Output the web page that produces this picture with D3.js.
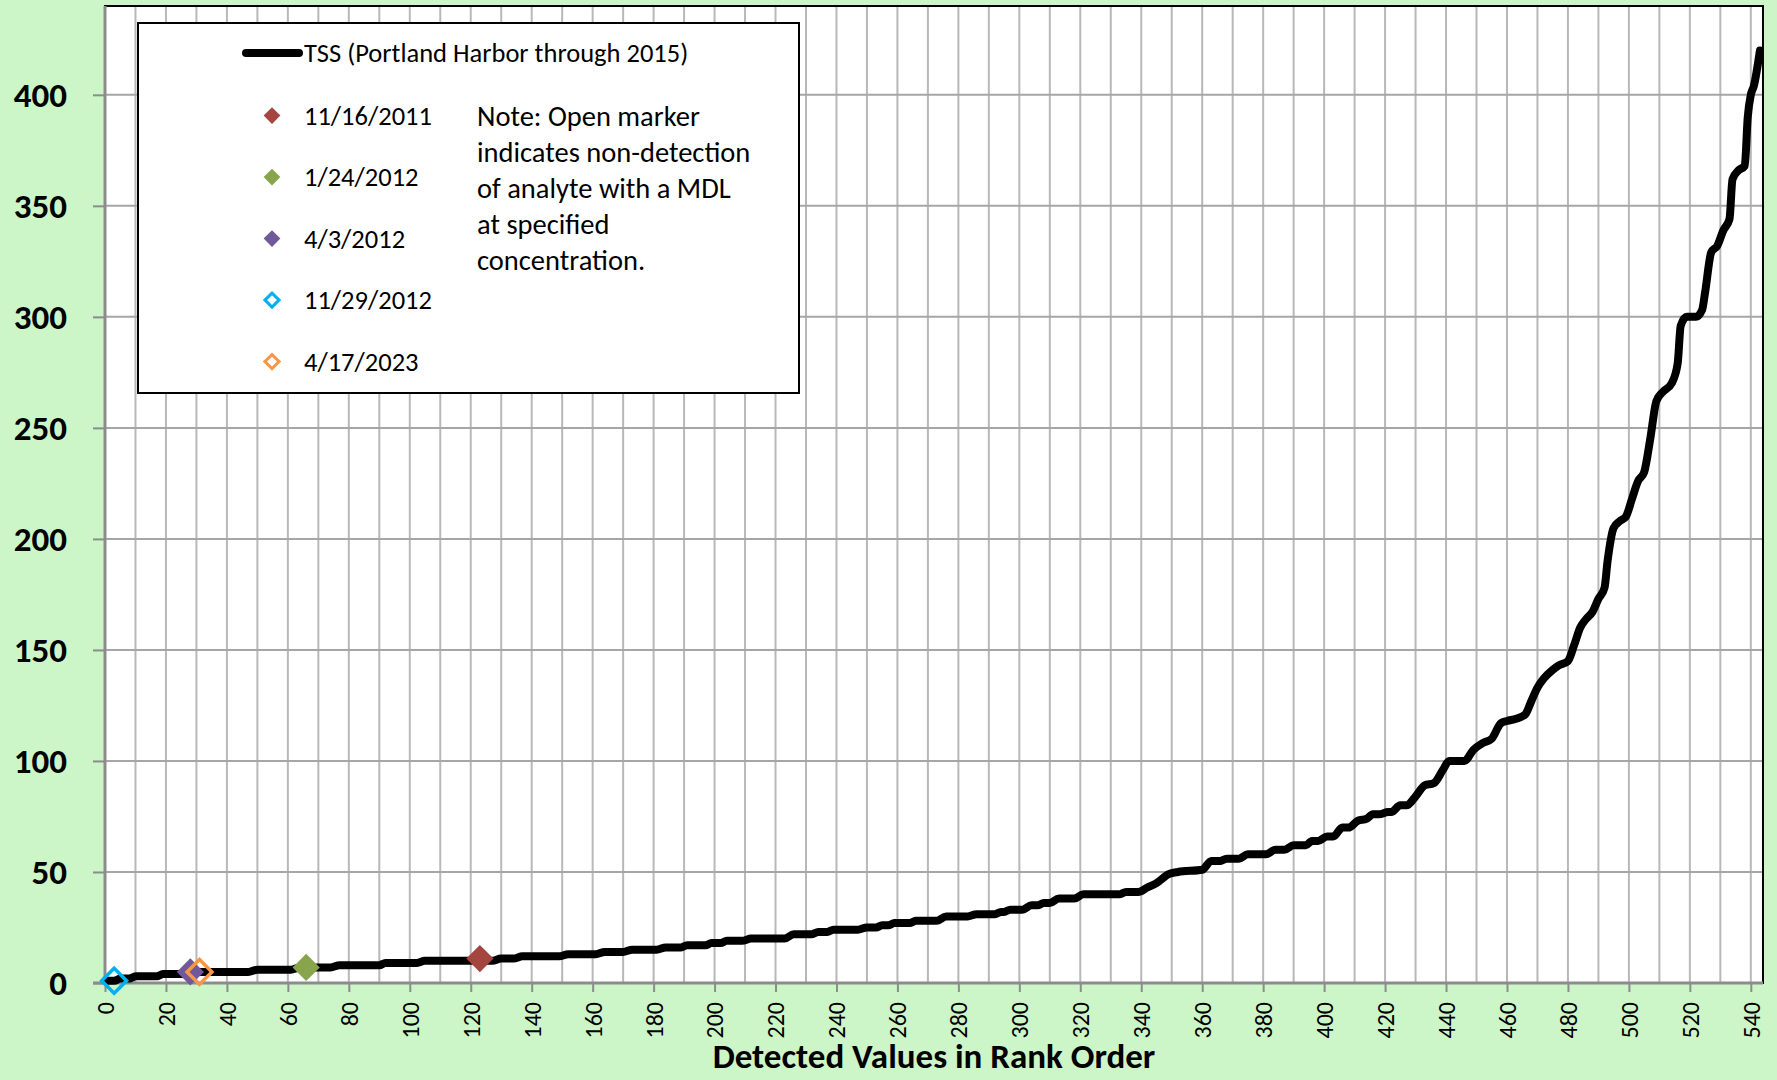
<!DOCTYPE HTML>
<html>

<head>
  <meta charset="utf-8">
  <title>TSS rank order</title>
  <script src="https://d3js.org/d3.v7.min.js"></script>
  <style>
    body { margin: 0; background: #ccf5c8; }
    text { font-family: Carlito, Calibri, Lato, sans-serif; }
  </style>
</head>

<body>
  <script>
    // ranked TSS values (rank, mg/L)
    const tssRank = [1, 3, 5, 8, 10, 17, 19, 27, 30, 47, 50, 61, 64, 74, 77, 90, 92, 102, 105, 127,
      130, 134, 137, 149, 152, 161, 164, 170, 173, 181, 184, 189, 191, 197, 199, 202, 204, 209, 212, 223,
      226, 232, 234, 237, 239, 247, 250, 253, 255, 257, 259, 264, 266, 273, 276, 283, 286, 292, 294, 295,
      297, 301, 304, 306, 308, 310, 313, 318, 321, 333, 335, 339, 342, 345, 349, 352, 360, 363, 366, 368,
      372, 375, 381, 384, 387, 390, 394, 396, 398, 401, 403, 406, 408, 411, 414, 416, 418, 421, 422, 425,
      427, 430, 433, 436, 439, 441, 446, 449, 452, 455, 458, 460, 463, 466, 468, 470, 472, 475, 477, 480,
      482, 484, 486, 488, 490, 492, 493, 495, 497, 499, 501, 503, 505, 507, 509, 511, 514, 516, 517, 519,
      522, 524, 525, 527, 529, 531, 533, 534, 536, 538, 539, 540, 541, 543];
    const tssValue = [1, 1, 2, 2, 3, 3, 4, 4, 5, 5, 6, 6, 7, 7, 8, 8, 9, 9, 10, 10,
      11, 11, 12, 12, 13, 13, 14, 14, 15, 15, 16, 16, 17, 17, 18, 18, 19, 19, 20, 20,
      22, 22, 23, 23, 24, 24, 25, 25, 26, 26, 27, 27, 28, 28, 30, 30, 31, 31, 32, 32,
      33, 33, 35, 35, 36, 36, 38, 38, 40, 40, 41, 41, 43, 45, 49, 50, 51, 55, 55, 56,
      56, 58, 58, 60, 60, 62, 62, 64, 64, 66, 66, 70, 70, 73, 74, 76, 76, 77, 77, 80,
      80, 84, 89, 90, 96, 100, 100, 105, 108, 110, 117, 118, 119, 121, 127, 133, 137, 141, 143, 145,
      152, 160, 164, 167, 173, 178, 190, 205, 208, 210, 218, 226, 230, 245, 262, 266, 270, 279, 296, 300,
      300, 303, 311, 329, 332, 339, 344, 362, 366, 368, 390, 400, 404, 420];

    // individual samples
    const sampleDates = ['11/16/2011', '1/24/2012', '4/3/2012', '11/29/2012', '4/17/2023'];
    const sampleRank = [123, 66, 28, 3, 31];
    const sampleValue = [11, 7, 5, 1, 5];
    const sampleNonDetect = [false, false, false, true, true];
    const sampleColors = ['#a5453f', '#88a44d', '#70589a', '#00b0f0', '#f79646'];

    const xTicks = d3.range(0, 541, 20);
    const yTicks = [0, 50, 100, 150, 200, 250, 300, 350, 400];
    const noteLines = ['Note: Open marker', 'indicates non-detection', 'of analyte with a MDL',
      'at specified', 'concentration.'];

    const svg = d3.select('body').append('svg')
      .attr('width', 1777)
      .attr('height', 1080);

    svg.append('rect')
      .attr('width', 1777)
      .attr('height', 1080)
      .attr('fill', '#ccf5c8');

    const x = d3.scaleLinear().domain([0, 544]).range([105, 1763]);
    const y = d3.scaleLinear().domain([0, 440]).range([983, 6]);

    // plot area
    svg.append('rect')
      .attr('x', x(0))
      .attr('y', y(440))
      .attr('width', x(544) - x(0))
      .attr('height', y(0) - y(440))
      .attr('fill', '#fff')
      .attr('stroke', '#000')
      .attr('stroke-width', 2);

    svg.append('g')
      .selectAll('line')
      .data(d3.range(10, 544, 10))
      .join('line')
      .attr('x1', d => x(d))
      .attr('x2', d => x(d))
      .attr('y1', y(440) + 1)
      .attr('y2', y(0))
      .attr('stroke', '#b8b8b8')
      .attr('stroke-width', 2);

    svg.append('g')
      .selectAll('line')
      .data(yTicks.slice(1))
      .join('line')
      .attr('x1', x(0))
      .attr('x2', x(544) - 1)
      .attr('y1', d => y(d))
      .attr('y2', d => y(d))
      .attr('stroke', '#a6a6a6')
      .attr('stroke-width', 2);

    // axes
    const yAxis = svg.append('g')
      .attr('transform', `translate(${x(0)},0)`)
      .call(d3.axisLeft(y).tickValues(yTicks).tickSize(12).tickPadding(26));
    yAxis.select('.domain')
      .attr('d', `M0,${y(440)}V${y(0)}`)
      .attr('stroke', '#8c8c8c')
      .attr('stroke-width', 3);
    yAxis.selectAll('.tick line')
      .attr('stroke', '#8c8c8c')
      .attr('stroke-width', 2);
    yAxis.selectAll('.tick text')
      .attr('font-size', 35)
      .attr('font-weight', 'bold')
      .attr('fill', '#000');

    const xAxis = svg.append('g')
      .attr('transform', `translate(0,${y(0)})`)
      .call(d3.axisBottom(x).tickValues(xTicks).tickSize(9));
    xAxis.select('.domain')
      .attr('d', `M${x(0) - 12},0H${x(544)}`)
      .attr('stroke', '#8c8c8c')
      .attr('stroke-width', 3);
    xAxis.selectAll('.tick line')
      .attr('stroke', '#8c8c8c')
      .attr('stroke-width', 2);
    xAxis.selectAll('.tick text')
      .attr('font-size', 24)
      .attr('fill', '#000')
      .attr('text-anchor', 'end')
      .attr('transform', 'rotate(-90)')
      .attr('x', -19)
      .attr('y', 0)
      .attr('dy', '0.35em');

    svg.append('text')
      .attr('x', (x(0) + x(544)) / 2)
      .attr('y', 1068)
      .attr('text-anchor', 'middle')
      .attr('font-size', 35)
      .attr('font-weight', 'bold')
      .text('Detected Values in Rank Order');

    // TSS curve
    const tss = tssRank.map((r, i) => ({ r: r, v: tssValue[i] }));
    const line = d3.line()
      .x(d => x(d.r))
      .y(d => y(d.v))
      .curve(d3.curveMonotoneX);

    svg.append('path')
      .datum(tss)
      .attr('d', line)
      .attr('fill', 'none')
      .attr('stroke', '#000')
      .attr('stroke-width', 8)
      .attr('stroke-linejoin', 'round')
      .attr('stroke-linecap', 'round');

    // sample markers
    const samples = sampleDates.map((d, i) => ({
      date: d,
      r: sampleRank[i],
      v: sampleValue[i],
      open: sampleNonDetect[i],
      color: sampleColors[i],
    }));

    const diamond = (size) => d3.symbol(d3.symbolSquare, size)();

    svg.append('g')
      .selectAll('path')
      .data(samples)
      .join('path')
      .attr('d', d => diamond(d.open ? 310 : 370))
      .attr('transform', d => `translate(${x(d.r)},${y(d.v)}) rotate(45)`)
      .attr('fill', d => d.open ? 'none' : d.color)
      .attr('stroke', d => d.open ? d.color : 'none')
      .attr('stroke-width', 3.5);

    // legend
    const legend = svg.append('g');
    legend.append('rect')
      .attr('x', 138)
      .attr('y', 23)
      .attr('width', 661)
      .attr('height', 370)
      .attr('fill', '#fff')
      .attr('stroke', '#000')
      .attr('stroke-width', 2);

    legend.append('line')
      .attr('x1', 246)
      .attr('x2', 299)
      .attr('y1', 53)
      .attr('y2', 53)
      .attr('stroke', '#000')
      .attr('stroke-width', 8)
      .attr('stroke-linecap', 'round');

    legend.append('text')
      .attr('x', 304)
      .attr('y', 53)
      .attr('dy', '0.35em')
      .attr('font-size', 26.5)
      .text('TSS (Portland Harbor through 2015)');

    const items = legend.selectAll('g.item')
      .data(samples)
      .join('g')
      .attr('class', 'item')
      .attr('transform', (d, i) => `translate(272,${115.6 + i * 61.5})`);

    items.append('path')
      .attr('d', d => diamond(d.open ? 100 : 140))
      .attr('transform', 'rotate(45)')
      .attr('fill', d => d.open ? 'none' : d.color)
      .attr('stroke', d => d.open ? d.color : 'none')
      .attr('stroke-width', 3);

    items.append('text')
      .attr('x', 32)
      .attr('dy', '0.35em')
      .attr('font-size', 26.5)
      .text(d => d.date);

    legend.selectAll('text.note')
      .data(noteLines)
      .join('text')
      .attr('class', 'note')
      .attr('x', 477)
      .attr('y', (d, i) => 115.6 + i * 36)
      .attr('dy', '0.35em')
      .attr('font-size', 28.5)
      .text(d => d);
  </script>
</body>

</html>
